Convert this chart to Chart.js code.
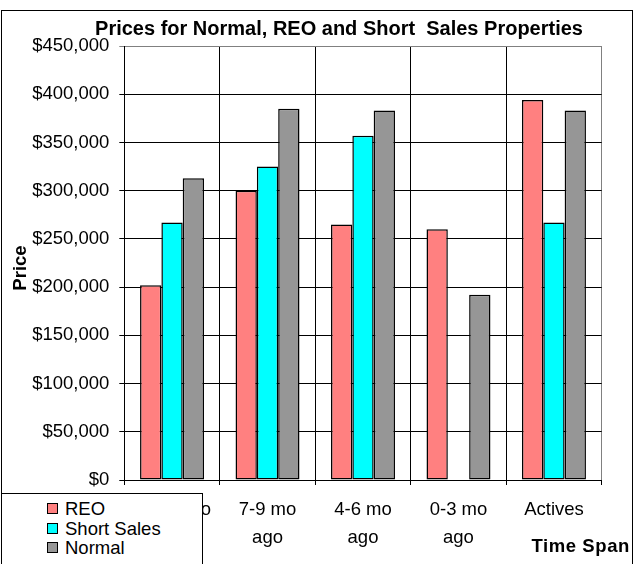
<!DOCTYPE html>
<html>
<head>
<meta charset="utf-8">
<script src="https://cdn.jsdelivr.net/npm/chart.js@4.4.0/dist/chart.umd.min.js"></script>
<style>
  html, body { margin: 0; padding: 0; background: #fff; }
  #wrap { position: relative; width: 640px; height: 564px; overflow: hidden; }
  #frame { position: absolute; left: 1px; top: 10px; width: 632px; height: 600px; border: 1px solid #000; box-sizing: border-box; }
  canvas { position: absolute; left: 0; top: 0; }
  #legend { position: absolute; left: 1px; top: 493px; width: 202px; height: 100px; border: 1px solid #000; box-sizing: border-box; background: #fff;
            font-family: "Liberation Sans", Arial, sans-serif; font-size: 18.5px; color: #000; padding-top: 5px; }
  #legend .row { height: 19.7px; line-height: 19.7px; position: relative; white-space: nowrap; }
  #legend .sw { position: absolute; left: 45px; top: 4px; width: 11px; height: 11px; border: 1.5px solid #000; box-sizing: border-box; }
  #legend .tx { position: absolute; left: 63px; top: 0; }
</style>
</head>
<body>
<div id="wrap">
  <div id="frame"></div>
  <canvas id="c" width="640" height="564"></canvas>
  <div id="legend"></div>
</div>
<script>
const categories = [["10-12 mo", "ago"], ["7-9 mo", "ago"], ["4-6 mo", "ago"], ["0-3 mo", "ago"], ["Actives"]];
const seriesNames = ["REO", "Short Sales", "Normal"];
const reoValues = [202000, 300000, 265000, 260000, 394000];
const shortSalesValues = [267000, 325000, 357000, null, 267000];
const normalValues = [313000, 385000, 383000, 192000, 383000];
const seriesColors = ["#FF8080", "#00FFFF", "#969696"];
const yTickMin = 0, yTickMax = 450000, yTickStep = 50000;
const chartTitle = 'Prices for Normal, REO and Short  Sales Properties';
const yAxisTitle = 'Price';
const xAxisTitle = 'Time Span';

const FONT = '"Liberation Sans", Arial, sans-serif';
const FS = 18.5;

const titles = {
  id: 'titles',
  afterDraw(chart) {
    const ctx = chart.ctx;
    ctx.save();
    ctx.fillStyle = '#000';
    ctx.textBaseline = 'alphabetic';
    ctx.font = 'bold 20px ' + FONT;
    ctx.textAlign = 'center';
    ctx.fillText(chartTitle, 339, 35);
    ctx.font = 'bold ' + FS + 'px ' + FONT;
    ctx.save();
    ctx.translate(25.5, 268);
    ctx.rotate(-Math.PI / 2);
    ctx.textAlign = 'center';
    ctx.fillText(yAxisTitle, 0, 0);
    ctx.restore();
    if ('letterSpacing' in ctx) ctx.letterSpacing = '0.6px';
    ctx.textAlign = 'right';
    ctx.fillText(xAxisTitle, 630, 552);
    ctx.restore();
  }
};

const datasets = [reoValues, shortSalesValues, normalValues].map((vals, i) => ({
  label: seriesNames[i],
  data: vals,
  backgroundColor: seriesColors[i],
  borderColor: '#000',
  borderWidth: 1.5,
  borderSkipped: false,
  categoryPercentage: 0.67,
  barPercentage: 1.0
}));

new Chart(document.getElementById('c'), {
  type: 'bar',
  data: { labels: categories, datasets },
  options: {
    responsive: false,
    animation: false,
    devicePixelRatio: 1,
    layout: { padding: { left: 0, right: 0, top: 46, bottom: 0 } },
    plugins: {
      legend: { display: false },
      tooltip: { enabled: false },
      title: { display: false }
    },
    scales: {
      x: {
        offset: true,
        grid: {
          offset: true,
          display: true,
          drawOnChartArea: true,
          drawTicks: true,
          tickLength: 5,
          lineWidth: 1,
          color: (c) => (c.type === 'tick' ? '#000' : '#808080'),
          tickColor: '#000'
        },
        border: { display: true, color: '#000', width: 1 },
        ticks: {
          color: '#000',
          padding: 11,
          maxRotation: 0,
          autoSkip: false,
          font: { family: FONT, size: FS, lineHeight: 1.5 }
        },
        afterFit(scale) { scale.height = 84; }
      },
      y: {
        position: 'left',
        min: yTickMin,
        max: yTickMax,
        grid: {
          drawTicks: true,
          tickLength: 5,
          lineWidth: 1,
          color: (c) => (c.tick && c.tick.value === yTickMax ? '#808080' : '#000'),
          tickColor: (c) => (c.tick && c.tick.value === yTickMax ? '#808080' : '#000')
        },
        border: { display: true, color: '#000', width: 1 },
        ticks: {
          stepSize: yTickStep,
          color: '#000',
          padding: 10,
          font: { family: FONT, size: FS, lineHeight: 1.2 },
          callback: (v) => '$' + Number(v).toLocaleString('en-US')
        },
        afterFit(scale) { scale.width = 124.3; }
      },
      yRightSpacer: {
        position: 'right',
        display: true,
        min: yTickMin,
        max: yTickMax,
        grid: { display: false, drawTicks: false },
        border: { display: false },
        ticks: { display: false },
        afterFit(scale) { scale.width = 38.3; }
      }
    }
  },
  plugins: [titles]
});

const leg = document.getElementById('legend');
seriesNames.forEach((name, i) => {
  const row = document.createElement('div');
  row.className = 'row';
  const sw = document.createElement('span');
  sw.className = 'sw';
  sw.style.background = seriesColors[i];
  const tx = document.createElement('span');
  tx.className = 'tx';
  tx.textContent = name;
  row.appendChild(sw);
  row.appendChild(tx);
  leg.appendChild(row);
});
</script>
</body>
</html>
